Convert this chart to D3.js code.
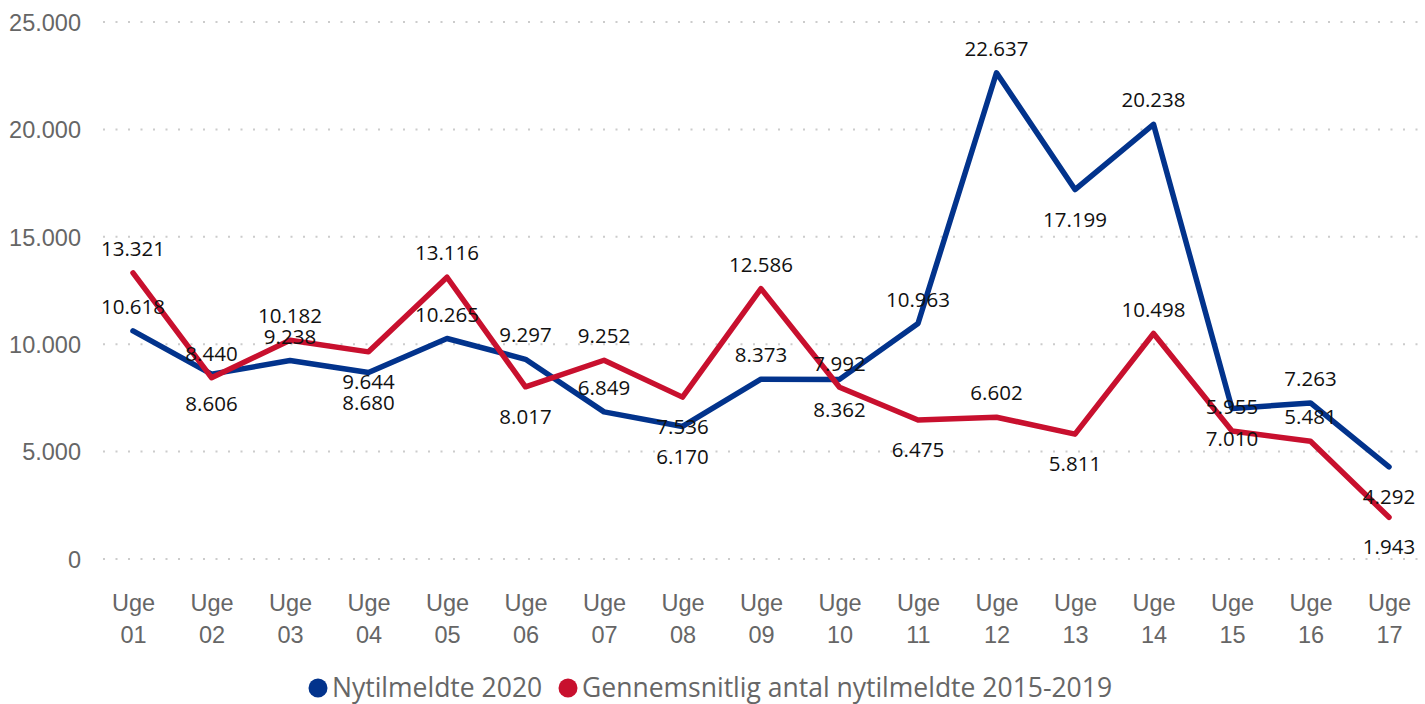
<!DOCTYPE html>
<html><head><meta charset="utf-8">
<script src="https://cdn.jsdelivr.net/npm/d3@7"></script>
<style>
html,body{margin:0;padding:0;background:#fff;}
svg{display:block;font-family:"Open Sans","Noto Sans",sans-serif;}
</style></head>
<body>
<svg id="c" width="1425" height="704"></svg>
<script>
const weeks = ["01","02","03","04","05","06","07","08","09","10","11","12","13","14","15","16","17"];
const seriesNames = ["Nytilmeldte 2020","Gennemsnitlig antal nytilmeldte 2015-2019"];
const blue2020 = [10618,8606,9238,8680,10265,9297,6849,6170,8373,8362,10963,22637,17199,20238,7010,7263,4292];
const redAvg = [13321,8440,10182,9644,13116,8017,9252,7536,12586,7992,6475,6602,5811,10498,5955,5481,1943];
const yTicks = [0,5000,10000,15000,20000,25000];
// label side: a = above, b = below
const blueSide = ["a","b","a","b","a","a","a","b","a","b","a","a","b","a","b","a","b"];
const redSide  = ["a","a","a","b","a","b","a","b","a","a","b","a","b","a","a","a","b"];

const colors = ["#02338c","#c8102e"];
const svg = d3.select("#c");
const x = d3.scalePoint().domain(weeks).range([133,1389]);
const y = d3.scaleLinear().domain([0,25000]).range([559,22]);
const fmt = v => d3.format(",")(v).replace(/,/g,".");

// grid
svg.append("g").selectAll("line").data(yTicks).join("line")
  .attr("x1",103).attr("x2",1422)
  .attr("y1",d=>y(d)).attr("y2",d=>y(d))
  .attr("stroke","#cccccc").attr("stroke-width",2)
  .attr("stroke-dasharray","2,10.5");

// y axis
const yAxis = d3.axisLeft(y).tickValues(yTicks).tickSize(0).tickPadding(0).tickFormat(fmt);
const yg = svg.append("g").attr("transform","translate(81,0)").call(yAxis);
yg.select(".domain").remove();
yg.selectAll("text").attr("fill","#666").style("font-size","23.5px").attr("dy","0.35em");

// x axis
const xAxis = d3.axisBottom(x).tickSize(0).tickFormat("");
const xg = svg.append("g").attr("transform","translate(0,580)").call(xAxis);
xg.select(".domain").remove();
xg.selectAll(".tick").each(function(d){
  const t = d3.select(this).append("text").attr("fill","#666").style("font-size","23.5px").attr("text-anchor","middle");
  t.append("tspan").attr("x",0).attr("y",31).text("Uge");
  t.append("tspan").attr("x",0).attr("y",63).text(d);
});

// lines
const line = d3.line().x((d,i)=>x(weeks[i])).y(d=>y(d));
[[blue2020,0],[redAvg,1]].forEach(([arr,k])=>{
  svg.append("path").datum(arr).attr("d",line)
    .attr("fill","none").attr("stroke",colors[k]).attr("stroke-width",5.5)
    .attr("stroke-linejoin","round").attr("stroke-linecap","round");
});

// labels
[[redAvg,redSide],[blue2020,blueSide]].forEach(([arr,side])=>{
  svg.append("g").selectAll("text").data(arr).join("text")
    .attr("x",(d,i)=>x(weeks[i]))
    .attr("y",(d,i)=>y(d) + (side[i]==="a" ? -24 : 30))
    .attr("dy","0.35em").attr("text-anchor","middle")
    .attr("fill","#111").style("font-size","20.5px")
    .text(d=>fmt(d));
});

// legend
const lg = svg.append("g");
const lx = [318, 568];
seriesNames.forEach((n,i)=>{
  lg.append("circle").attr("cx",lx[i]).attr("cy",688).attr("r",9.5).attr("fill",colors[i]);
  lg.append("text").attr("x",lx[i]+14).attr("y",688).attr("dy","0.35em")
    .attr("fill","#666").style("font-size","26.5px").text(n);
});
</script>
</body></html>
